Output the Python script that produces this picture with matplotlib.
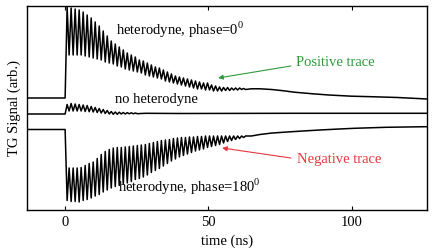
import matplotlib
matplotlib.use("Agg")
import matplotlib.pyplot as plt

plt.rcParams['font.family'] = ['Liberation Serif', 'DejaVu Serif']
plt.rcParams['mathtext.fontset'] = 'custom'
plt.rcParams['mathtext.rm'] = 'Liberation Serif'

# shared times of the oscillation extrema (ns)
osc_t = [0.7, 1.4, 2.1, 2.8, 3.5, 4.2, 4.9, 5.6, 6.3, 7.0,
         7.7, 8.4, 9.1, 9.8, 10.5, 11.2, 11.9, 12.6, 13.3, 14.0,
         14.7, 15.4, 16.1, 16.8, 17.5, 18.2, 18.9, 19.6, 20.3, 21.0,
         21.7, 22.4, 23.1, 23.8, 24.5, 25.2, 25.9, 26.6, 27.3, 28.0,
         28.7, 29.4, 30.1, 30.8, 31.5, 32.2, 32.9, 33.6, 34.3, 35.0,
         35.7, 36.4, 37.1, 37.8, 38.5, 39.2, 39.9, 40.6, 41.3, 42.0,
         42.7, 43.4, 44.1, 44.8, 45.5, 46.2, 46.9, 47.6, 48.3, 49.0,
         49.7, 50.4, 51.1, 51.8, 52.5, 53.2, 53.9, 54.6, 55.3, 56.0,
         56.7, 57.4, 58.1, 58.8, 59.5, 60.2, 60.9, 61.6, 62.3, 63.0]

pre_t = [-14, 0]
pre_v = [0, 0]

# heterodyne, phase = 0
pos_osc = [91, 43, 90, 43, 89, 43, 88, 43, 86, 42,
           83, 41, 80, 40, 76, 39, 72, 38, 67, 36,
           62, 35, 57, 34, 54, 32, 51, 31, 48, 29,
           45, 28, 43, 27, 41, 26, 38, 25, 37, 23,
           35, 22, 33, 21, 31, 20, 30, 19, 28, 17,
           26, 16, 24, 15, 22, 14, 21, 13, 20, 12,
           19, 11, 18, 10, 17, 9, 16, 9, 15, 8,
           15, 8, 13, 7, 12, 7, 11, 7, 10.5, 7.5,
           10.5, 7.5, 10, 8, 10, 8, 10, 8.5, 9.5, 8.5]
pos_tail_t = [65, 68, 72, 76, 80, 86, 92, 100, 108, 116, 126.3]
pos_tail = [9.2, 9.2, 8.5, 7.3, 5.8, 4.3, 3, 1.8, 1.2, 0.5, -1]

# heterodyne, phase = 180
neg_osc = [-71, -38.5, -72, -38.5, -72, -38.5, -72.5, -38, -71, -36,
           -70, -34, -68.5, -32.5, -66.5, -29, -65, -25, -62.5, -22,
           -60.5, -20, -58.5, -18.5, -57, -18, -56, -18, -54.5, -17.5,
           -53.5, -17, -52, -16.5, -50, -16, -49, -15.5, -47.5, -15,
           -45.5, -14, -43, -13, -41, -12, -39, -11, -36.5, -10.5,
           -34, -10, -31.5, -9, -29.5, -8.5, -27.5, -8, -26, -8,
           -24.5, -7.5, -23, -7.5, -21.5, -7, -20.5, -7, -19.5, -6.5,
           -18, -6.5, -17, -6.5, -16, -6.5, -15, -6.5, -13.5, -6.5,
           -12, -6.5, -11, -6.5, -10, -6.5, -9, -6.5, -8, -6.5]
neg_tail_t = [65, 68, 72, 77, 83, 89, 95, 101, 112, 126.3]
neg_tail = [-6.5, -5, -3.6, -2.6, -1.5, -0.5, 0.4, 1.2, 2.2, 2.8]

# no heterodyne
nohet_osc = [9.5, 3, 10.5, 3, 10, 3, 9.5, 3, 9, 2.5,
             8.5, 2.3, 7.5, 2, 6.5, 1.5, 5.5, 1, 4.5, 0.5,
             3.5, 0, 2.5, -0.3, 2, -0.3, 1.8, 0, 1.5, 0,
             1.3, 0.2, 1.2, 0.2, 1, 0.3]
nohet_tail_t = [28, 40, 60, 80, 100, 126.3]
nohet_tail = [0.7, 0.5, 0.6, 0.7, 0.7, 0.7]

pos_base, nohet_base, neg_base = 112, 96, 80.5

fig = plt.figure(figsize=(4.4, 2.52), dpi=100)
ax = fig.add_axes([0.0614, 0.1667, 0.909, 0.8095])

lw = 1.1
pos_t = pre_t + osc_t + pos_tail_t
pos_v = pre_v + pos_osc + pos_tail
ax.plot(pos_t, [pos_base + v for v in pos_v], color='k', lw=lw)

n = len(nohet_osc)
nohet_t = pre_t + osc_t[:n] + nohet_tail_t
nohet_v = pre_v + nohet_osc + nohet_tail
ax.plot(nohet_t, [nohet_base + v for v in nohet_v], color='k', lw=lw)

neg_t = pre_t + osc_t + neg_tail_t
neg_v = pre_v + neg_osc + neg_tail
ax.plot(neg_t, [neg_base + v for v in neg_v], color='k', lw=lw)

ax.set_xlim(-13.3, 126.3)
ax.set_ylim(0, 204)
ax.set_xticks([0, 50, 100])
ax.set_yticks([])
ax.tick_params(axis='x', direction='in', top=True, length=3, width=0.8,
               labelsize=10.5, pad=4)
for s in ax.spines.values():
    s.set_linewidth(1.0)

ax.set_xlabel('time (ns)', fontsize=10.5, labelpad=4)
ax.set_ylabel('TG Signal (arb.)', fontsize=10.5, labelpad=4)

ax.text(17.8, 175, r'heterodyne, phase=0$^\mathrm{0}$', fontsize=10.5, va='baseline')
ax.text(17.4, 106.7, 'no heterodyne', fontsize=10.5, va='baseline')
ax.text(18.3, 18.3, r'heterodyne, phase=180$^\mathrm{0}$', fontsize=10.5, va='baseline')

green = '#2e9a3c'
red = '#e8383d'
ax.text(80.6, 143.5, 'Positive trace', color=green, fontsize=10.5, va='baseline')
ax.annotate('', xy=(53.4, 132), xytext=(78.8, 144),
            arrowprops=dict(arrowstyle='-|>', color=green, lw=0.8,
                            mutation_scale=7, shrinkA=0, shrinkB=0))
ax.text(80.9, 46.7, 'Negative trace', color=red, fontsize=10.5, va='baseline')
ax.annotate('', xy=(54.8, 62), xytext=(78.8, 52),
            arrowprops=dict(arrowstyle='-|>', color=red, lw=0.8,
                            mutation_scale=7, shrinkA=0, shrinkB=0))

fig.savefig('out.png', dpi=100)
